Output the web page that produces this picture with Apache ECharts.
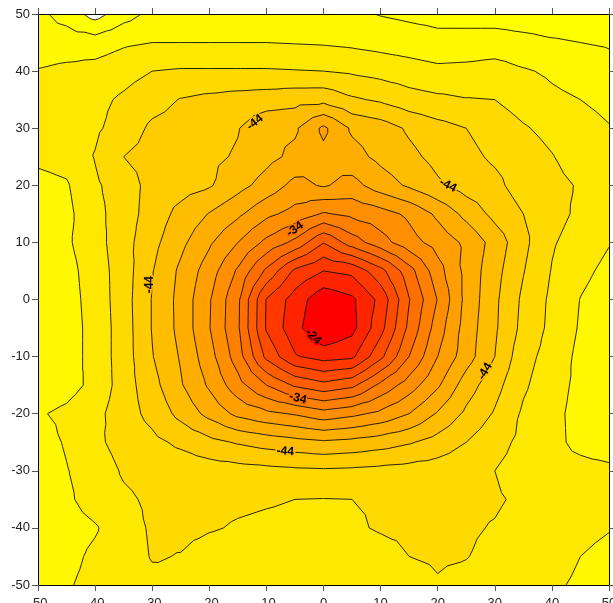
<!DOCTYPE html>
<html><head><meta charset="utf-8">
<script src="https://cdn.jsdelivr.net/npm/echarts@6/dist/echarts.min.js"></script>
<style>html,body{margin:0;padding:0;background:#fff}#c{width:613px;height:603px}</style>
</head><body><div id="c"></div>
<script>
const xValues = [-50,-45,-40,-35,-30,-25,-20,-15,-10,-5,0,5,10,15,20,25,30,35,40,45,50];
const yValues = [50,45,40,35,30,25,20,15,10,5,0,-5,-10,-15,-20,-25,-30,-35,-40,-45,-50];
const zRows = [
[-51.5,-52.8,-54.8,-52.8,-51.5,-51.3,-51.2,-51.2,-51.2,-51.2,-51.3,-51.6,-52.1,-52.4,-52.6,-52.7,-52.8,-52.9,-53,-53,-53.2],
[-51,-50.9,-51,-50.3,-50,-50,-50,-50,-50,-50.1,-50.2,-50.4,-50.7,-51,-51.4,-51.3,-51.2,-51.5,-51.8,-52,-52.2],
[-49.9,-49.6,-49.3,-48.7,-48,-47.8,-47.8,-47.8,-47.8,-47.9,-48,-48.3,-48.7,-49.1,-49.5,-49.4,-49.1,-49.8,-50.3,-50.8,-51.3],
[-49.5,-49.2,-48.5,-47.7,-46.8,-45.9,-45.5,-45.2,-45,-44.7,-44.6,-45.7,-46.3,-47.2,-47.6,-47.9,-48,-48.9,-49.6,-50,-50.5],
[-49.2,-48.8,-48.3,-47.2,-45.6,-45.2,-44.7,-44.1,-42.5,-42.3,-39.6,-42.3,-43,-44.3,-45.3,-46,-46.8,-47.8,-48.6,-49.3,-49.9],
[-49.6,-49.3,-47.9,-46,-45.3,-44.8,-44.4,-43.8,-42.6,-41.5,-40.5,-41.3,-42.5,-43.5,-44.6,-45.5,-46.3,-47,-47.9,-49,-49.5],
[-50.6,-50.2,-48.3,-47,-45.3,-44.8,-44.2,-42.7,-41.2,-39.4,-40.2,-39.3,-41,-42.3,-43.7,-44.9,-45.5,-46.9,-47.4,-48.2,-49],
[-51.2,-50.5,-48.6,-47,-45.1,-43.4,-41.9,-40.4,-38.5,-37.3,-35.8,-36.5,-37.2,-38.4,-40.4,-42.6,-44.6,-46,-47.3,-48.4,-49.2],
[-51.5,-50.3,-48.8,-46.8,-44.6,-42.5,-40.3,-38,-35.5,-33.5,-30.1,-33,-35.2,-37.2,-38.8,-40.4,-42.8,-45.5,-47.8,-48.9,-49.9],
[-51.5,-50.7,-49,-47,-44.1,-41.6,-39,-35.7,-31.6,-27.6,-26,-26.5,-29.3,-33.2,-37.2,-40.6,-43.3,-45.9,-48.1,-49.5,-50.5],
[-51.5,-50.8,-49.2,-46.9,-43.9,-41.35,-38.2,-34.4,-27.9,-25.1,-22.6,-23.6,-26.6,-31.9,-36.1,-40.6,-43.6,-46.4,-48.4,-50.05,-51],
[-51.5,-50.9,-49.3,-47,-43.9,-41.4,-38.1,-34.3,-27.8,-24.7,-22,-23.4,-27.3,-32.5,-37,-40.9,-43.7,-46.6,-48.5,-50.2,-51],
[-51.5,-50.9,-49.3,-47,-44.1,-41.8,-38.8,-35,-29.5,-26.2,-25.2,-25.6,-29.5,-34,-38,-41.1,-44,-47.3,-48.8,-50.5,-51.2],
[-51.2,-50.7,-49.5,-47,-44.7,-42.2,-39.7,-36.8,-34,-31.7,-30.6,-31.5,-34.5,-37,-39.7,-43,-45.3,-47.7,-49.2,-50.5,-51.3],
[-50.2,-49.6,-48.6,-46.9,-45.4,-43.4,-41.4,-39.5,-38.5,-37.8,-36.8,-37.5,-38.5,-40,-42.2,-44.4,-46.2,-48.3,-49.5,-50.6,-51.2],
[-50.9,-49.8,-48.4,-47.3,-46.5,-45.6,-44.6,-43.8,-43.2,-42.7,-42.3,-42.6,-43.1,-43.8,-44.8,-46,-47.3,-48.5,-49.5,-50.5,-51],
[-51.2,-50.1,-49,-47.8,-47.4,-47.2,-47,-46.8,-46.6,-46.4,-46.3,-46.4,-46.6,-46.8,-47,-47.5,-48,-48.8,-49.3,-49.4,-49.6],
[-51.3,-50.4,-49,-48.3,-47.7,-47.6,-47.7,-47.8,-47.9,-48,-48.05,-48,-47.9,-47.8,-47.7,-47.7,-47.8,-48.3,-48.9,-49.3,-49.6],
[-51.2,-50.9,-50.2,-48.7,-47.8,-47.7,-47.9,-48.1,-48.2,-48.25,-48.25,-48.15,-47.9,-47.8,-47.7,-47.8,-48.1,-48.6,-49,-49.5,-49.9],
[-51.3,-50.6,-49.6,-48.8,-47.9,-48.05,-48.5,-48.6,-48.6,-48.6,-48.6,-48.6,-48.4,-48,-47.85,-47.95,-48.4,-48.9,-49.3,-50,-50.5],
[-51,-50.2,-49.4,-48.9,-48.4,-48.2,-48.7,-48.8,-48.8,-48.8,-48.8,-48.8,-48.7,-48.5,-48.1,-48.4,-48.9,-49.3,-49.7,-50.3,-50.8]
];
const contourLevels = [-54,-52,-50,-48,-46,-44,-42,-40,-38,-36,-34,-32,-30,-28,-26,-24];
const bandColors = ['#FFFFFF','#FFFF00','#FFF800','#FFE800','#FFDA00','#FFCC00','#FFBD00','#FFAE00','#FF9F00','#FF8F00','#FF7F00','#FF6E00','#FF5D00','#FF4B00','#FF3800','#FF2400','#FF0000'];
const labelText = ['-44','-44','-44','-44','-44','-34','-34','-24'];
const labelX = [-12,21.8,-30.4,28.3,-6.7,-5,-4.5,-1.8];
const labelY = [31,20,2.6,-12.6,-26.6,12.3,-17.3,-6.5];
const labelAngle = [38,-27,90,60,-5,35,-15,-45];

function buildTriangles() {
  const T = [];
  for (let i = 0; i < yValues.length - 1; i++) {
    for (let j = 0; j < xValues.length - 1; j++) {
      const p00 = [xValues[j], yValues[i], zRows[i][j]];
      const p10 = [xValues[j+1], yValues[i], zRows[i][j+1]];
      const p11 = [xValues[j+1], yValues[i+1], zRows[i+1][j+1]];
      const p01 = [xValues[j], yValues[i+1], zRows[i+1][j]];
      const c = [(p00[0]+p10[0])/2, (p00[1]+p01[1])/2, (p00[2]+p10[2]+p11[2]+p01[2])/4];
      T.push([c,p00,p10],[c,p10,p11],[c,p11,p01],[c,p01,p00]);
    }
  }
  return T;
}
const triangles = buildTriangles();
function clipAbove(tri, L) {
  const out = [];
  for (let k = 0; k < 3; k++) {
    const a = tri[k], b = tri[(k+1)%3];
    const ia = a[2] >= L, ib = b[2] >= L;
    if (ia) out.push(a);
    if (ia !== ib) {
      const t = (L - a[2]) / (b[2] - a[2]);
      out.push([a[0]+t*(b[0]-a[0]), a[1]+t*(b[1]-a[1]), L]);
    }
  }
  return out;
}
function segment(tri, L) {
  const pts = [];
  for (let k = 0; k < 3; k++) {
    const a = tri[k], b = tri[(k+1)%3];
    if ((a[2] >= L) !== (b[2] >= L)) {
      const t = (L - a[2]) / (b[2] - a[2]);
      pts.push([a[0]+t*(b[0]-a[0]), a[1]+t*(b[1]-a[1])]);
    }
  }
  return pts.length === 2 ? pts : null;
}
function P(api, p) { const q = api.coord([p[0], p[1]]); return q[0].toFixed(2) + ',' + q[1].toFixed(2); }

const chart = echarts.init(document.getElementById('c'), null, {renderer: 'canvas'});
const axisCommon = {
  type: 'value', min: -50, max: 50, interval: 10, z: 10,
  axisLine: {show: true, onZero: false, lineStyle: {color: '#000', width: 1}},
  axisTick: {show: true, inside: false, length: 6, lineStyle: {color: '#555', width: 1}},
  splitLine: {show: false}
};
const labelFont = {color: '#222', fontSize: 13, fontFamily: 'Liberation Sans, Arial, sans-serif'};
chart.setOption({
  animation: false,
  grid: {left: 38, right: 4, top: 14, bottom: 18, containLabel: false, outerBoundsMode: 'none'},
  xAxis: [
    Object.assign({}, axisCommon, {position: 'bottom', axisLabel: Object.assign({margin: 12}, labelFont)}),
    Object.assign({}, axisCommon, {position: 'top', axisLabel: {show: false}})
  ],
  yAxis: [
    Object.assign({}, axisCommon, {position: 'left', axisLabel: Object.assign({margin: 8}, labelFont)}),
    Object.assign({}, axisCommon, {position: 'right', axisLabel: {show: false}})
  ],
  series: [
    {
      type: 'custom', coordinateSystem: 'cartesian2d', clip: true, z: 1, silent: true,
      data: bandColors.map((c, i) => [0, 0, i]),
      renderItem: function (params, api) {
        const idx = params.dataIndex;
        let d = '';
        if (idx === 0) {
          d = 'M' + P(api,[-50,50]) + 'L' + P(api,[50,50]) + 'L' + P(api,[50,-50]) + 'L' + P(api,[-50,-50]) + 'Z';
        } else {
          const L = contourLevels[idx-1];
          for (const tri of triangles) {
            const poly = clipAbove(tri, L);
            if (poly.length >= 3) d += 'M' + poly.map(p => P(api,p)).join('L') + 'Z';
          }
        }
        if (!d) return null;
        return {type: 'path', shape: {pathData: d}, style: {fill: bandColors[idx], stroke: null}};
      }
    },
    {
      type: 'custom', coordinateSystem: 'cartesian2d', clip: true, z: 2, silent: true,
      data: contourLevels.map((l, i) => [0, 0, i]),
      renderItem: function (params, api) {
        const L = contourLevels[params.dataIndex];
        let d = '';
        for (const tri of triangles) {
          const s = segment(tri, L);
          if (s) d += 'M' + P(api,s[0]) + 'L' + P(api,s[1]);
        }
        if (!d) return null;
        return {type: 'path', shape: {pathData: d}, style: {fill: 'none', stroke: '#111', lineWidth: 0.9}};
      }
    },
    {
      type: 'custom', coordinateSystem: 'cartesian2d', clip: true, z: 3, silent: true,
      data: labelText.map((t, i) => [labelX[i], labelY[i]]),
      renderItem: function (params, api) {
        const i = params.dataIndex;
        const q = api.coord([labelX[i], labelY[i]]);
        const lv = parseFloat(labelText[i]);
        const bc = bandColors[contourLevels.indexOf(lv) + 1];
        return {type: 'text', x: q[0], y: q[1], rotation: labelAngle[i] * Math.PI / 180,
          style: {text: labelText[i], fill: '#000', font: 'bold 12px Liberation Sans, Arial, sans-serif',
            align: 'center', verticalAlign: 'middle', stroke: bc, lineWidth: 3}};
      }
    }
  ]
});
</script></body></html>
